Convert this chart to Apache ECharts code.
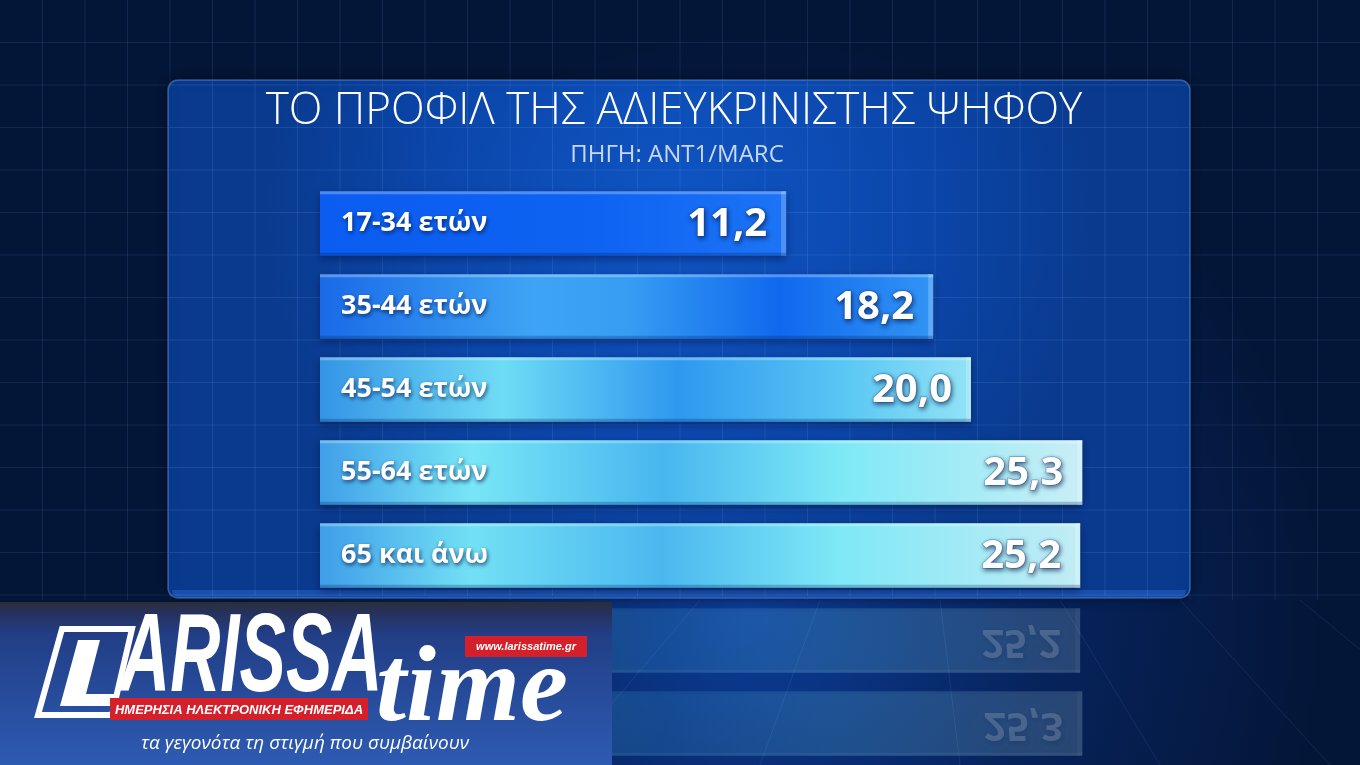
<!DOCTYPE html>
<html><head><meta charset="utf-8">
<script src="https://cdn.jsdelivr.net/npm/echarts@6/dist/echarts.min.js"></script>
<style>html,body{margin:0;padding:0;background:#061a40;overflow:hidden}#c{width:1360px;height:765px}</style>
</head><body><div id="c"></div><script>
// ---- data ----
const categories = ['17-34 ετών', '35-44 ετών', '45-54 ετών', '55-64 ετών', '65 και άνω'];
const values = [11.2, 18.2, 20.0, 25.3, 25.2];
const titleText = 'ΤΟ ΠΡΟΦΙΛ ΤΗΣ ΑΔΙΕΥΚΡΙΝΙΣΤΗΣ ΨΗΦΟΥ';
const subtitleText = 'ΠΗΓΗ: ANT1/MARC';
const X_MIN = -11, X_MAX = 30;

// ---- styles ----
const barStops = [
  [[0,'#0b5cf0'],[0.6,'#0e63f2'],[1,'#1d74f5']],
  [[0,'#1a6ae8'],[0.35,'#3ea4f4'],[0.5,'#379df3'],[0.75,'#1068ee'],[1,'#3294f5']],
  [[0,'#3494e6'],[0.28,'#6fdcf5'],[0.55,'#2e98ef'],[0.8,'#58c6f4'],[1,'#92e2f6']],
  [[0,'#3f9fe8'],[0.2,'#78e6f6'],[0.45,'#47b6ef'],[0.68,'#7de9f6'],[1,'#c9eef6']],
  [[0,'#3f9ee8'],[0.2,'#72e0f5'],[0.45,'#4ab8ef'],[0.68,'#7ee8f6'],[1,'#c2ecf5']]
];
const fmt = v => v.toFixed(1).replace('.', ',');
const G = echarts.graphic;

const chart = echarts.init(document.getElementById('c'), null, {renderer: 'canvas'});

// background decoration
const bg = [];
bg.push({type:'rect', z:-20, shape:{x:0,y:0,width:1360,height:765},
  style:{fill:new G.RadialGradient(0.55,0.8,0.75,[{offset:0,color:'#0c3d98'},{offset:0.5,color:'#07245e'},{offset:1,color:'#041638'}])}});
for (let x = 42.5; x < 1360; x += 42.5) {
  bg.push({type:'line', z:-19, shape:{x1:x,y1:0,x2:x,y2:600}, style:{stroke:'rgba(120,160,235,0.13)',lineWidth:1}});
}
for (let y = 42.5; y < 600; y += 42.5) {
  bg.push({type:'line', z:-19, shape:{x1:0,y1:y,x2:1360,y2:y}, style:{stroke:'rgba(120,160,235,0.13)',lineWidth:1}});
}
// floor perspective lines
[[700,600,560,765],[820,600,760,765],[940,600,960,765],[1060,600,1160,765],[1180,600,1330,765],[1300,600,1500,765]].forEach(p=>{
  bg.push({type:'line', z:-19, shape:{x1:p[0],y1:p[1],x2:p[2],y2:p[3]}, style:{stroke:'rgba(130,170,240,0.12)',lineWidth:1}});
});
// panel
bg.push({type:'rect', z:-15, shape:{x:168,y:80,width:1022,height:518,r:10},
  style:{fill:new G.RadialGradient(0.5,0.25,0.8,[{offset:0,color:'#0f55c4'},{offset:0.6,color:'#0b46aa'},{offset:1,color:'#093a8e'}]),
  stroke:'rgba(110,165,255,0.45)', lineWidth:1.5, shadowColor:'rgba(0,0,0,0.5)', shadowBlur:12}});
bg.push({type:'rect', z:-14, shape:{x:172,y:590,width:1014,height:8,r:[0,0,8,8]}, style:{fill:'rgba(40,100,200,0.55)'}});
for (let x = 212.5; x < 1190; x += 42.5) {
  bg.push({type:'line', z:-13, shape:{x1:x,y1:81,x2:x,y2:596}, style:{stroke:'rgba(150,190,255,0.13)',lineWidth:1}});
}
for (let y = 85; y < 598; y += 42.5) {
  bg.push({type:'line', z:-13, shape:{x1:169,y1:y,x2:1189,y2:y}, style:{stroke:'rgba(150,190,255,0.13)',lineWidth:1}});
}
// title
bg.push({type:'text', z:-10, style:{text:titleText, x:674, y:111, align:'center', verticalAlign:'middle',
  font:'300 44px "Open Sans", "Noto Sans", sans-serif', fill:'#ffffff'}});
bg.push({type:'text', z:-10, style:{text:subtitleText, x:677, y:155, align:'center', verticalAlign:'middle',
  font:'400 24px "Open Sans", "Noto Sans", sans-serif', fill:'#c8d8f2'}});

// logo
const logo = [];
logo.push({type:'rect', z:100, shape:{x:0,y:602,width:612,height:163},
  style:{fill:new G.LinearGradient(0,0,0,1,[{offset:0,color:'#2a2e3a'},{offset:0.07,color:'#26325e'},{offset:0.2,color:'#223e86'},{offset:1,color:'#2d5bb2'}])}});
logo.push({type:'polygon', z:101, shape:{points:[[62,629],[132,629],[112,715],[38,715]]},
  style:{fill:'none', stroke:'#ffffff', lineWidth:6}});
logo.push({type:'polygon', z:101, shape:{points:[[78,640],[100,640],[86,694],[118,694],[114,706],[60,706]]},
  style:{fill:'#ffffff'}});
logo.push({type:'text', z:101, x:120, y:716, scaleX:0.62, style:{text:'ARISSA', x:0, y:0, align:'left', verticalAlign:'bottom',
  font:'italic 900 112px "Liberation Sans", Arial, sans-serif', fill:'#ffffff'}});
logo.push({type:'text', z:101, x:376, y:746, style:{text:'time', x:0, y:0, align:'left', verticalAlign:'bottom',
  font:'italic 700 108px "Liberation Serif", "DejaVu Serif", serif', fill:'#ffffff'}});
logo.push({type:'rect', z:102, shape:{x:465,y:636,width:122,height:21}, style:{fill:'#d4202a'}});
logo.push({type:'text', z:103, style:{text:'www.larissatime.gr', x:526, y:647, align:'center', verticalAlign:'middle',
  font:'italic 700 11px "Liberation Sans", Arial, sans-serif', fill:'#ffffff'}});
logo.push({type:'rect', z:102, shape:{x:110,y:698,width:258,height:22}, style:{fill:'#d4202a'}});
logo.push({type:'text', z:103, style:{text:'ΗΜΕΡΗΣΙΑ ΗΛΕΚΤΡΟΝΙΚΗ ΕΦΗΜΕΡΙΔΑ', x:239, y:710, align:'center', verticalAlign:'middle',
  font:'italic 700 13px "Liberation Sans", Arial, sans-serif', fill:'#ffffff'}});
logo.push({type:'text', z:103, style:{text:'τα γεγονότα τη στιγμή που συμβαίνουν', x:305, y:744, align:'center', verticalAlign:'middle',
  font:'italic 400 19px "Open Sans", "Noto Sans", sans-serif', fill:'#ffffff'}});

function barGroup(api, i, v, y0, h, x0, w, mirrored) {
  const children = [];
  children.push({type:'rect', shape:{x:x0,y:y0,width:w,height:h},
    style:{fill:new G.LinearGradient(0,0,1,0,barStops[i].map(s=>({offset:s[0],color:s[1]}))),
      shadowColor: mirrored ? 'transparent' : 'rgba(0,10,50,0.45)', shadowBlur: mirrored?0:8, shadowOffsetY: mirrored?0:3}});
  children.push({type:'rect', shape:{x:x0,y:mirrored?y0+h-3:y0,width:w,height:3}, style:{fill:'rgba(255,255,255,0.28)'}});
  children.push({type:'rect', shape:{x:x0+w-5,y:y0,width:5,height:h}, style:{fill:'rgba(255,255,255,0.22)'}});
  children.push({type:'rect', shape:{x:x0,y:mirrored?y0:y0+h-3,width:w,height:3}, style:{fill:'rgba(0,30,90,0.25)'}});
  const cy = y0 + h/2;
  children.push({type:'text', x:x0+21, y:cy, scaleY: mirrored?-1:1,
    style:{text:categories[i], x:0, y:0, align:'left', verticalAlign:'middle',
      font:'700 27px "Open Sans", "Noto Sans", sans-serif', fill:'#ffffff',
      textShadowColor:'rgba(0,20,70,0.75)', textShadowBlur:4, textShadowOffsetX:1, textShadowOffsetY:2}});
  children.push({type:'text', x:x0+w-19, y:cy+1, scaleY: mirrored?-1:1,
    style:{text:fmt(v), x:0, y:0, align:'right', verticalAlign:'middle',
      font:'700 40px "Open Sans", "Noto Sans", sans-serif', fill:'#ffffff',
      stroke:'rgba(40,70,120,0.35)', lineWidth:1.5,
      textShadowColor:'rgba(0,20,70,0.7)', textShadowBlur:5, textShadowOffsetX:1, textShadowOffsetY:2}});
  return children;
}

const option = {
  animation: false,
  backgroundColor: '#061a40',
  grid: {left: 320, right: 179, top: 182, height: 415, containLabel: false},
  xAxis: {type: 'value', min: X_MIN, max: X_MAX, show: false},
  yAxis: {type: 'category', data: categories, inverse: true, show: false},
  graphic: {elements: bg.concat(logo)},
  series: [
    {
      type: 'custom', z: 5,
      data: values.map((v, i) => [v, i]),
      encode: {x: 0, y: 1},
      renderItem: function(params, api) {
        const v = api.value(0), i = api.value(1);
        const s = api.coord([X_MIN, i]), e = api.coord([v, i]);
        const h = api.size([0, 1])[1] * 0.78;
        return {type:'group', children: barGroup(api, i, v, s[1]-h/2, h, s[0], e[0]-s[0], false)};
      }
    },
    {
      // floor reflection
      type: 'custom', z: 3, silent: true,
      data: values.map((v, i) => [v, i]),
      encode: {x: 0, y: 1},
      renderItem: function(params, api) {
        const v = api.value(0), i = api.value(1);
        const s = api.coord([X_MIN, i]), e = api.coord([v, i]);
        const h = api.size([0, 1])[1] * 0.78;
        const floorY = 598;
        const top = s[1]-h/2;
        const my = 2*floorY - (top + h);
        return {type:'group',
          children: barGroup(api, i, v, my, h, s[0], e[0]-s[0], true).map(c=>{c.style = Object.assign({}, c.style, {opacity:0.18}); return c;})};
      }
    }
  ]
};
chart.setOption(option);
</script></body></html>
